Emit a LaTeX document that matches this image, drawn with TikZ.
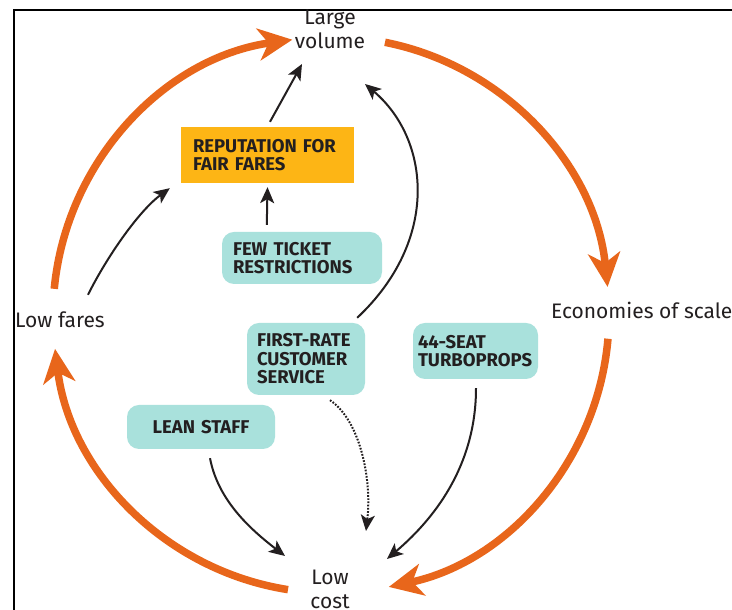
\documentclass[tikz,border=0pt]{standalone}
\usepackage{fontspec}
\setmainfont{Fira Sans}
\usetikzlibrary{arrows.meta}
\definecolor{cycleorange}{HTML}{E8661B}
\definecolor{gold}{HTML}{FDB515}
\definecolor{teal}{HTML}{A9E1DC}
\definecolor{ink}{HTML}{231F20}
\begin{document}
\begin{tikzpicture}[x=1pt,y=1pt,
  lbl/.style={inner sep=0pt,align=center,text=ink,font=\fontsize{21}{24}\selectfont},
  boxfont/.style={font=\fontsize{18.5}{18.5}\selectfont\bfseries},
  factor/.style={boxfont,rounded corners=12pt,fill=teal,text=ink,inner ysep=0pt,align=left},
  cycle/.style={draw=cycleorange,line width=7.5pt,
    -{Stealth[length=34pt,width=32pt,inset=10pt]}},
  link/.style={draw=ink,line width=2pt,
    -{Stealth[length=16pt,width=14pt,inset=4pt]}},
  weak/.style={link,dash pattern=on 1.7pt off 1.5pt}]
\useasboundingbox (0,0) rectangle (732,610);
\fill[white] (0,0) rectangle (732,610);
\draw[line width=2pt] (13.5,-2) -- (13.5,600) -- (734,600);

% outcome labels on the loop
\node[lbl] (vol) at (330,581) {Large\\volume};
\node[lbl,anchor=west] (fares) at (15,290) {Low fares};
\node[lbl,anchor=west] (scale) at (551,300) {Economies of scale};
\node[lbl] (cost) at (330,21) {Low\\cost};

% policy boxes
\node[boxfont,fill=gold,text=ink,align=left,inner xsep=12pt,inner ysep=0pt,
  text width=149pt,minimum height=56pt]
  (rep) at (267.5,455) {REPUTATION~FOR\\FAIR~FARES};
\node[factor,inner xsep=11pt,text width=138pt,minimum height=52pt]
  (few) at (302,352) {FEW~TICKET\\RESTRICTIONS};
\node[factor,inner xsep=10pt,text width=98pt,minimum height=72pt]
  (first) at (306,251) {FIRST-RATE\\CUSTOMER\\SERVICE};
\node[factor,inner xsep=5pt,text width=115pt,minimum height=56pt]
  (seat) at (475.5,259) {44-SEAT\\TURBOPROPS};
\node[factor,align=center,inner xsep=10pt,text width=128pt,minimum height=44pt]
  (lean) at (201,183) {LEAN~STAFF};

% the reinforcing loop
\coordinate (c) at (331,295);
\draw[cycle] ([shift={(174.6:278)}]c) arc[start angle=174.6,end angle=98,radius=278];
\draw[cycle] ([shift={(78.8:278)}]c) arc[start angle=78.8,end angle=5.8,radius=278];
\draw[cycle] ([shift={(-4.9:278)}]c) arc[start angle=-4.9,end angle=-78,radius=278];
\draw[cycle] ([shift={(-98.9:278)}]c) arc[start angle=-98.9,end angle=-173,radius=278];

% contributing links
\draw[link] ([shift={(28,17)}]fares.north) .. controls +(20,40) and +(-30,-22) .. ([shift={(-11,-5)}]rep.south west);
\draw[link] ([shift={(2.5,5)}]rep.north) -- ([shift={(-28,-35)}]vol.center);
\draw[link] ([shift={(45,7)}]few.north west) -- ([shift={(0,-4)}]rep.south);
\draw[link] ([shift={(-8,5)}]first.north east) .. controls +(83,78) and +(65,-55) .. ([shift={(35,-55)}]vol.center);
\draw[weak] ([shift={(24,-5)}]first.south) .. controls +(30,-20) and +(6,52) .. ([shift={(36,58)}]cost.center);
\draw[link] ([shift={(9,-9)}]lean.south) .. controls +(8,-42) and +(-35,27) .. ([shift={(-45,33)}]cost.center);
\draw[link] ([shift={(0.5,-9)}]seat.south) .. controls +(0,-72) and +(53,45) .. ([shift={(57,30)}]cost.center);
\end{tikzpicture}
\end{document}
